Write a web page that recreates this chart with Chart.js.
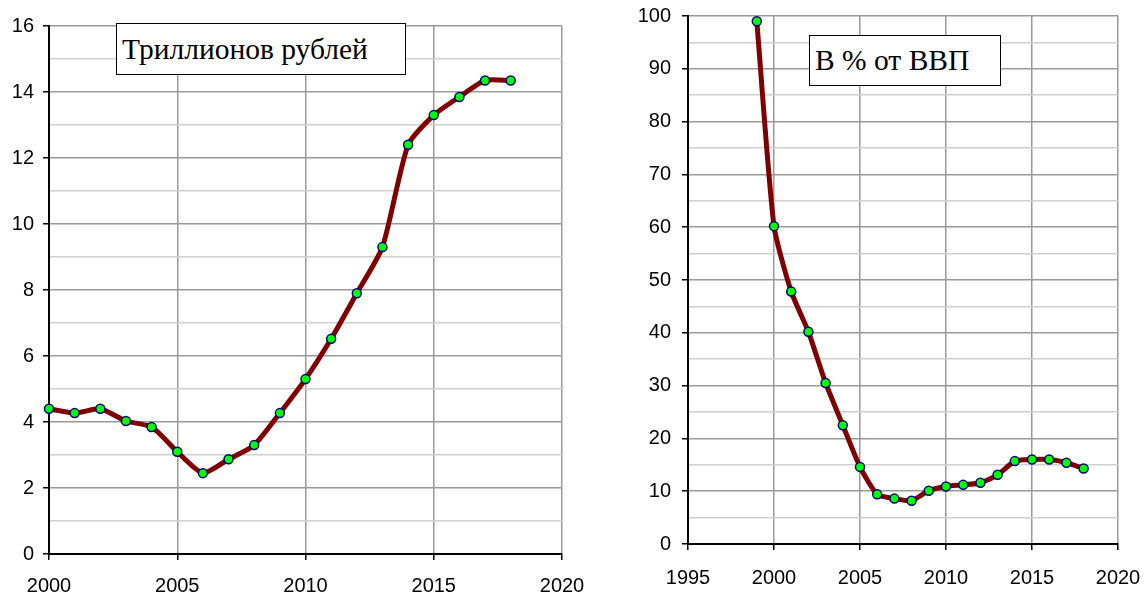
<!DOCTYPE html>
<html>
<head>
<meta charset="utf-8">
<script src="https://cdn.jsdelivr.net/npm/chart.js@4"></script>
<style>
  body { margin: 0; background: #fff; }
  #wrap { position: relative; width: 1144px; height: 592px; overflow: hidden; }
  canvas { position: absolute; }
  .note {
    position: absolute;
    box-sizing: border-box;
    border: 1.5px solid #000;
    background: #fff;
    font-family: 'Liberation Serif', 'Times New Roman', serif;
    font-size: 29.5px;
    color: #000;
    padding-left: 5px;
    display: flex;
    align-items: center;
    white-space: nowrap;
  }
</style>
</head>
<body>
<div id="wrap">
  <canvas id="rub" width="620" height="602" style="left:0; top:-10px"></canvas>
  <canvas id="gdp" width="600" height="602" style="left:580px; top:-10px"></canvas>
  <div class="note" style="left:116px; top:23px; width:290px; height:52px;">Триллионов рублей</div>
  <div class="note" style="left:809px; top:35px; width:192px; height:51px;">В % от ВВП</div>
</div>
<script>
// trillion rubles, 2000-2018
const rubYears = [2000, 2001, 2002, 2003, 2004, 2005, 2006, 2007, 2008, 2009,
  2010, 2011, 2012, 2013, 2014, 2015, 2016, 2017, 2018];
const rubValues = [4.4, 4.27, 4.4, 4.03, 3.85, 3.1, 2.45, 2.87, 3.3, 4.27,
  5.3, 6.52, 7.9, 9.3, 12.4, 13.3, 13.85, 14.35, 14.35];

// percent of GDP, 1999-2018
const gdpYears = [1999, 2000, 2001, 2002, 2003, 2004, 2005, 2006, 2007, 2008,
  2009, 2010, 2011, 2012, 2013, 2014, 2015, 2016, 2017, 2018];
const gdpValues = [99, 60.2, 47.8, 40.2, 30.5, 22.5, 14.6, 9.4, 8.6, 8.2,
  10.1, 10.9, 11.2, 11.6, 13.1, 15.7, 16.0, 16.0, 15.4, 14.3];

const rubXTicks = [2000, 2020, 5];
const rubYTicks = [0, 16, 1, 2];    // min, max, step, labelled every
const gdpXTicks = [1995, 2020, 5];
const gdpYTicks = [0, 100, 5, 10];

const font = { family: "'Liberation Sans', Arial, sans-serif", size: 20 };

function makeChart(id, years, values, xt, yt, opts) {
  let points = years.map((y, i) => ({ x: y, y: values[i] }));
  let isMajor = (v) => Math.abs(v / yt[3] - Math.round(v / yt[3])) < 1e-6;

  return new Chart(document.getElementById(id), {
    type: 'line',
    data: {
      datasets: [{
        data: points,
        borderColor: '#800000',
        borderWidth: 5,
        tension: 0.2,
        pointRadius: 4.5,
        pointBorderWidth: 1.5,
        pointBorderColor: '#000080',
        pointBackgroundColor: '#00ff00',
        clip: false
      }]
    },
    options: {
      responsive: false,
      animation: false,
      devicePixelRatio: 1,
      layout: { padding: opts.padding },
      plugins: { legend: { display: false }, tooltip: { enabled: false } },
      scales: {
        x: {
          type: 'linear',
          min: xt[0],
          max: xt[1],
          afterFit: (s) => { s.height = opts.xHeight; },
          ticks: { stepSize: xt[2], color: '#000', font: font, padding: opts.xPad,
            maxRotation: 0, callback: (v) => String(v) },
          grid: { color: '#999', lineWidth: 1.5, tickLength: 6, tickColor: '#000', tickWidth: 1.5 },
          border: { color: '#000', width: 2 }
        },
        y: {
          min: yt[0],
          max: yt[1],
          afterFit: (s) => { s.width = opts.yWidth; },
          ticks: { stepSize: yt[2], color: '#000', font: font, padding: opts.yPad,
            autoSkip: false,
            callback: (v) => isMajor(v) ? String(v) : '' },
          grid: {
            color: (c) => isMajor(c.tick.value) ? '#999' : '#cfcfcf',
            lineWidth: 1.5,
            tickLength: 6,
            tickWidth: 1.5,
            tickColor: (c) => isMajor(c.tick.value) ? '#000' : 'rgba(0,0,0,0)'
          },
          border: { color: '#000', width: 2 }
        }
      }
    }
  });
}

makeChart('rub', rubYears, rubValues, rubXTicks, rubYTicks, {
  padding: { top: 36, right: 58, left: 0, bottom: 0 },
  xHeight: 38, yWidth: 49, xPad: 14, yPad: 9
});

makeChart('gdp', gdpYears, gdpValues, gdpXTicks, gdpYTicks, {
  padding: { top: 26, right: 62, left: 0, bottom: 0 },
  xHeight: 48, yWidth: 108, xPad: 16, yPad: 11
});
</script>
</body>
</html>
